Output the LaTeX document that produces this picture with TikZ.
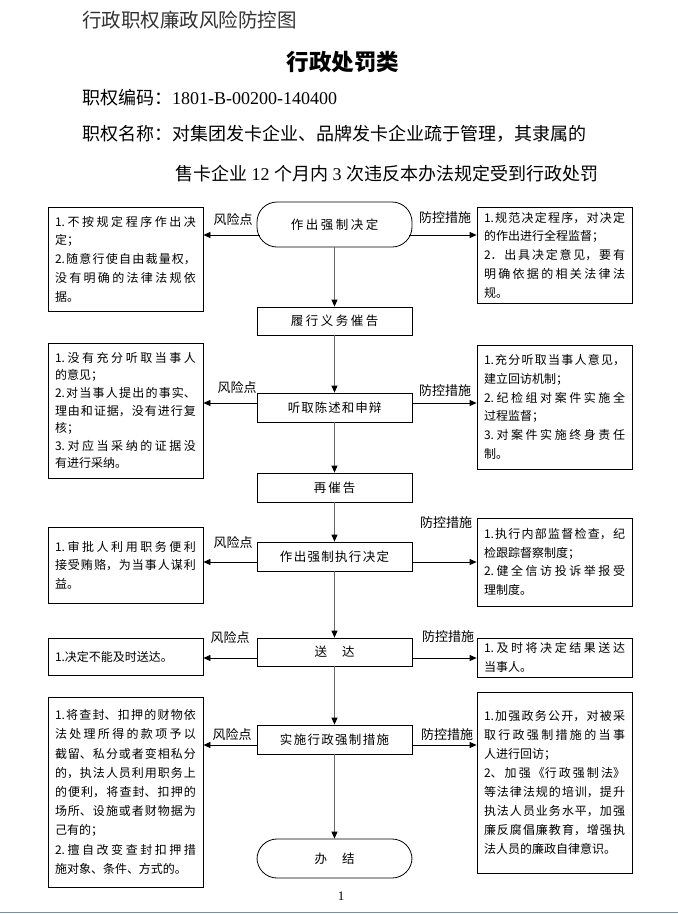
\documentclass[tikz,border=0pt]{standalone}
\usepackage{fontspec}
\setmainfont{Liberation Serif}
\newfontfamily\cjk{Noto Sans CJK SC}
\usetikzlibrary{arrows.meta}
\XeTeXlinebreaklocale "zh"
\XeTeXlinebreakskip=0pt plus 4pt
\setlength{\parindent}{0pt}
\makeatletter
\newcommand\lspread[2]{\def\lsp@gap{#1}\@tfor\lsp@c:=#2\do{\lsp@c\hspace{\lsp@gap}}\unskip}
\makeatother
\tikzset{
  mainbox/.style={draw, line width=0.8pt, minimum width=155pt, minimum height=29pt, inner sep=0pt,
    font=\cjk\fontsize{12.5}{14}\selectfont},
  termbox/.style={mainbox, rounded corners=20pt},
  sidebox/.style={draw, line width=0.8pt, minimum width=155pt, text width=141pt, inner sep=0pt,
    align=justify, font=\cjk\fontsize{12}{18.7}\selectfont},
  lab/.style={font=\cjk\fontsize{13}{15}\selectfont, inner sep=0pt},
  vflow/.style={draw=black!60, line width=1pt, -{Triangle[width=6pt,length=7pt,color=black]}},
  hflow/.style={draw=black, line width=0.8pt, -{Triangle[width=6pt,length=7pt]}},
}
\begin{document}
\begin{tikzpicture}[x=1pt,y=-1pt]
\useasboundingbox (0,0) rectangle (678,914);
\fill[white] (0,0) rectangle (678,914);

% header
\node[anchor=west, inner sep=0pt, text=black!80, font=\cjk\fontsize{19.5}{22}\selectfont] (hd) at (82,20) {行政职权廉政风险防控图};
\node[inner sep=0pt, font=\cjk\bfseries\fontsize{22.5}{26}\selectfont] (tt) at (343,62) {行政处罚类};
\node[anchor=west, inner sep=0pt, font=\fontsize{18}{22}\selectfont] (code) at (82,98) {{\cjk 职权编码：}1801-B-00200-140400};
\node[anchor=west, inner sep=0pt, font=\cjk\fontsize{18}{22}\selectfont] (nm1) at (82,134) {职权名称：对集团发卡企业、品牌发卡企业疏于管理，其隶属的};
\node[anchor=west, inner sep=0pt, font=\fontsize{18}{22}\selectfont] (nm2) at (175,174) {{\cjk 售卡企业} 12 {\cjk 个月内} 3 {\cjk 次违反本办法规定受到行政处罚}};

% main column
\node[termbox, minimum height=45pt] (n1) at (334.5,224.5) {\lspread{2.5pt}{作出强制决定}};
\node[mainbox, minimum height=28pt] (n2) at (334.5,321) {\lspread{2.5pt}{履行义务催告}};
\node[mainbox] (n3) at (334.5,407.5) {\lspread{1pt}{听取陈述和申辩}};
\node[mainbox] (n4) at (334.5,487.5) {\lspread{2pt}{再催告}};
\node[mainbox] (n5) at (334.5,556.5) {\lspread{1.3pt}{作出强制执行决定}};
\node[mainbox, minimum height=28pt] (n6) at (334.5,652) {送\hspace{15pt}达};
\node[mainbox] (n7) at (334.5,739.5) {\lspread{1.3pt}{实施行政强制措施}};
\node[termbox, minimum height=39pt] (n8) at (334.5,858.5) {办\hspace{15pt}结};

\draw[vflow] (n1.south) -- (n2.north);
\draw[vflow] (n2.south) -- (n3.north);
\draw[vflow] (n3.south) -- (n4.north);
\draw[vflow] (n4.south) -- (n5.north);
\draw[vflow] (n5.south) -- (n6.north);
\draw[vflow] (n6.south) -- (n7.north);
\draw[vflow] (n7.south) -- (n8.north);

% left boxes
\node[sidebox, minimum height=104pt] (l1) at (125.5,259) {1.不按规定程序作出决\linebreak 定；\par 2.随意行使自由裁量权，\linebreak 没有明确的法律法规依\linebreak 据。};
\node[sidebox, minimum height=135pt, font=\cjk\fontsize{12}{17.6}\selectfont] (l2) at (125.5,410.5) {1.没有充分听取当事人\linebreak 的意见；\par 2.对当事人提出的事实、\linebreak 理由和证据，没有进行复\linebreak 核；\par 3.对应当采纳的证据没\linebreak 有进行采纳。};
\node[sidebox, minimum height=76pt] (l3) at (125.5,565) {1.审批人利用职务便利\linebreak 接受贿赂，为当事人谋利\linebreak 益。};
\node[sidebox, minimum height=37pt] (l4) at (125.5,656.5) {1.决定不能及时送达。};
\node[sidebox, minimum height=190pt, font=\cjk\fontsize{12}{19.2}\selectfont] (l5) at (125.5,792) {1.将查封、扣押的财物依\linebreak 法处理所得的款项予以\linebreak 截留、私分或者变相私分\linebreak 的，执法人员利用职务上\linebreak 的便利，将查封、扣押的\linebreak 场所、设施或者财物据为\linebreak 己有的；\par 2.擅自改变查封扣押措\linebreak 施对象、条件、方式的。};

% right boxes
\node[sidebox, minimum height=96pt] (r1) at (554.5,255) {1.规范决定程序，对决定\linebreak 的作出进行全程监督；\par 2．出具决定意见，要有\linebreak 明确依据的相关法律法\linebreak 规。};
\node[sidebox, minimum height=124pt] (r2) at (554.5,407) {1.充分听取当事人意见，\linebreak 建立回访机制；\par 2.纪检组对案件实施全\linebreak 过程监督；\par 3.对案件实施终身责任\linebreak 制。};
\node[sidebox, minimum height=88pt] (r3) at (554.5,562) {1.执行内部监督检查，纪\linebreak 检跟踪督察制度；\par 2.健全信访投诉举报受\linebreak 理制度。};
\node[sidebox, minimum height=39pt] (r4) at (554.5,657.5) {1.及时将决定结果送达\linebreak 当事人。};
\node[sidebox, minimum height=181pt, font=\cjk\fontsize{12}{19}\selectfont] (r5) at (554.5,782.5) {1.加强政务公开，对被采\linebreak 取行政强制措施的当事\linebreak 人进行回访；\par 2、加强《行政强制法》\linebreak 等法律法规的培训，提升\linebreak 执法人员业务水平，加强\linebreak 廉反腐倡廉教育，增强执\linebreak 法人员的廉政自律意识。};

% horizontal arrows
\draw[hflow] ([shift={(3pt,-10.5pt)}]n1.west) -- ([yshift=-10.5pt]n1.west -| l1.east);
\draw[hflow] ([shift={(-3pt,-10.5pt)}]n1.east) -- ([yshift=-10.5pt]n1.east -| r1.west);
\draw[hflow] ([yshift=4.5pt]n3.west) -- ([yshift=4.5pt]n3.west -| l2.east);
\draw[hflow] ([yshift=4.5pt]n3.east) -- ([yshift=4.5pt]n3.east -| r2.west);
\draw[hflow] ([yshift=-5.5pt]n5.west) -- ([yshift=-5.5pt]n5.west -| l3.east);
\draw[hflow] ([yshift=-5.5pt]n5.east) -- ([yshift=-5.5pt]n5.east -| r3.west);
\draw[hflow] ([yshift=-6pt]n6.west) -- ([yshift=-6pt]n6.west -| l4.east);
\draw[hflow] ([yshift=-6pt]n6.east) -- ([yshift=-6pt]n6.east -| r4.west);
\draw[hflow] ([yshift=-5.5pt]n7.west) -- ([yshift=-5.5pt]n7.west -| l5.east);
\draw[hflow] ([yshift=-5.5pt]n7.east) -- ([yshift=-5.5pt]n7.east -| r5.west);

% labels
\node[lab] (a1) at (233,220) {风险点};
\node[lab] (b1) at (445,218) {防控措施};
\node[lab] (a3) at (237,388) {风险点};
\node[lab] (b3) at (445,391) {防控措施};
\node[lab] (a5) at (233,543) {风险点};
\node[lab] (b5) at (446,523) {防控措施};
\node[lab] (a6) at (230,638) {风险点};
\node[lab] (b6) at (448,637) {防控措施};
\node[lab] (a7) at (232,735) {风险点};
\node[lab] (b7) at (447,735) {防控措施};

% page number and bottom rule
\node[inner sep=0pt, font=\fontsize{13}{15}\selectfont] (pg) at (341,896) {1};
\draw[color={rgb,255:red,125;green,145;blue,168}, line width=1.5pt] (0,912.5) -- (678,912.5);
\end{tikzpicture}
\end{document}
